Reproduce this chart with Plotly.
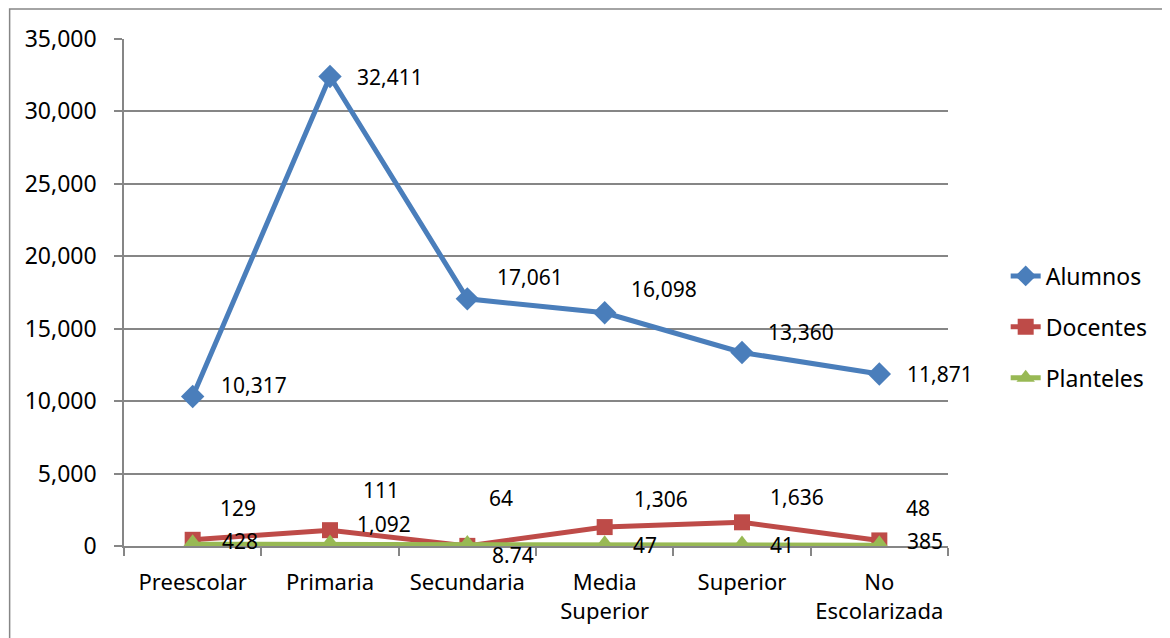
import plotly.graph_objects as go

niveles = ["Preescolar", "Primaria", "Secundaria", "Media<br>Superior", "Superior", "No<br>Escolarizada"]
alumnos = [10317, 32411, 17061, 16098, 13360, 11871]
docentes = [428, 1092, 8.74, 1306, 1636, 385]
planteles = [129, 111, 64, 47, 41, 48]

etiquetas_alumnos = ["10,317", "32,411", "17,061", "16,098", "13,360", "11,871"]
etiquetas_docentes = ["428", "1,092", "8.74", "1,306", "1,636", "385"]
etiquetas_planteles = ["129", "111", "64", "47", "41", "48"]

# label offsets in pixels (x, y), Excel placed these by hand
off_alumnos = [(26, 12), (25, 0), (28, 22), (24, 24), (24, 20), (26, 0)]
off_docentes = [(27, -1), (25, 6), (23, -9), (27, 28), (26, 25), (26, -1)]
off_planteles = [(25, 36), (31, 54), (20, 47), (26, 0), (26, 0), (25, 37)]

FONT = "Noto Sans"
GRAY = "#868686"

series = [
    ("Alumnos", alumnos, "#4A7EBB", "diamond", 18, etiquetas_alumnos, off_alumnos),
    ("Docentes", docentes, "#BE4B48", "square", 16, etiquetas_docentes, off_docentes),
    ("Planteles", planteles, "#98B954", "triangle-up", 20, etiquetas_planteles, off_planteles),
]

fig = go.Figure()
annotations = []
for name, vals, color, symbol, msize, labels, offs in series:
    fig.add_trace(go.Scatter(
        x=niveles, y=vals, name=name, mode="lines+markers",
        line=dict(color=color, width=5),
        marker=dict(symbol=symbol, size=msize, color=color),
        legendgroup=name,
    ))
    for x, y, t, (dx, dy) in zip(niveles, vals, labels, offs):
        annotations.append(dict(
            x=x, y=y, text=t, showarrow=False, xanchor="left", yanchor="middle",
            xshift=dx, yshift=dy, font=dict(family=FONT, size=21, color="black"),
        ))

# page body adds ~7px, margins are pulled in by that much
fig.update_layout(
    width=1170, height=638,
    margin=dict(l=116, r=230, t=31, b=100),
    paper_bgcolor="white", plot_bgcolor="white",
    font=dict(family=FONT, size=23, color="black"),
    annotations=annotations,
    legend=dict(x=1.07, y=0.432, xanchor="left", yanchor="middle",
                font=dict(size=23), tracegroupgap=18, bgcolor="rgba(0,0,0,0)"),
    # outer chart frame, only top and left edges show inside the window
    shapes=[dict(type="rect", xref="paper", yref="paper",
                 x0=-0.1388, y0=-0.3, x1=1.35, y1=1.0592,
                 line=dict(color=GRAY, width=1.5), layer="below")],
)
fig.update_xaxes(
    type="category", range=[-0.5, 5.5], tickson="boundaries",
    ticks="outside", ticklen=8, tickcolor=GRAY, tickwidth=1.5,
    showline=True, linecolor=GRAY, linewidth=1.5, showgrid=False,
    tickfont=dict(size=22), zeroline=False, ticklabelstandoff=16,
    tickangle=0, automargin=False,
)
fig.update_yaxes(
    range=[0, 35000], dtick=5000, tickformat=",d",
    ticks="outside", ticklen=8, tickcolor=GRAY, tickwidth=1.5,
    showline=True, linecolor=GRAY, linewidth=1.5,
    showgrid=True, gridcolor=GRAY, gridwidth=1.5, zeroline=False,
    tickfont=dict(size=23), ticklabelstandoff=13, automargin=False,
)

fig.write_html("out.html")
